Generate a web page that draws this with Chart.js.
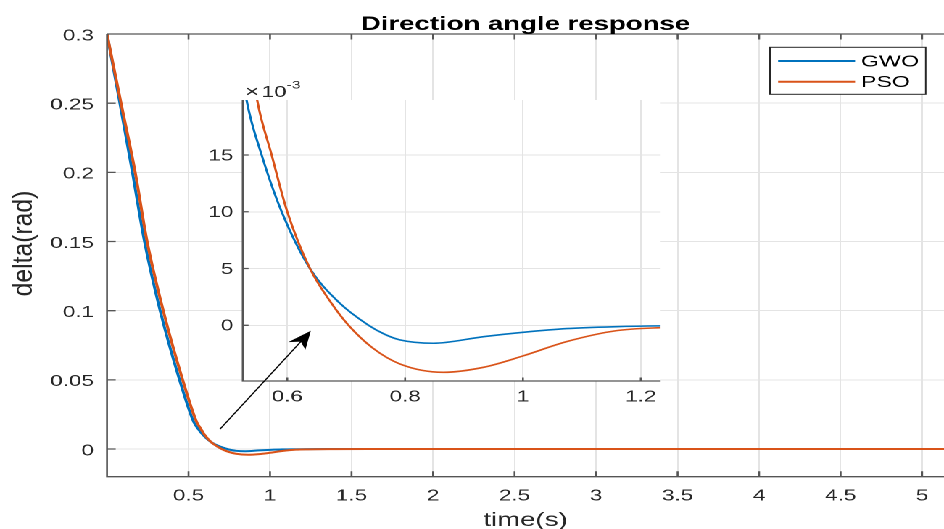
<!DOCTYPE html>
<html>
<head>
<meta charset="utf-8">
<title>Direction angle response</title>
<script src="https://cdn.jsdelivr.net/npm/chart.js@4.4.1/dist/chart.umd.min.js"></script>
<style>
  html, body { margin: 0; padding: 0; background: #fff; overflow: hidden; }
  /* the source figure is stretched sideways, so the whole stage is too */
  #stage { position: relative; width: 651px; height: 529px; transform: scaleX(1.45); transform-origin: 0 0; }
  #stage canvas { position: absolute; left: 0; top: 0; }
</style>
</head>
<body>
<div id="stage">
  <canvas id="mainChart" width="651" height="529"></canvas>
  <canvas id="zoomChart" width="651" height="529"></canvas>
</div>
<script>
const SERIES = ['GWO', 'PSO'];
const COLORS = ['#0072bd', '#d95319'];

const GWO_T = [0, 0.079, 0.156, 0.230, 0.326, 0.445, 0.531, 0.5565, 0.5905, 0.6385, 0.688, 0.738, 0.765, 0.791, 0.848, 0.933, 1.0, 1.074, 1.159, 1.234, 1.4, 1.6, 5.2];
const GWO_Y = [0.3, 0.25, 0.2, 0.15, 0.1, 0.05, 0.0198, 0.015, 0.01, 0.005, 0.002, 0, -0.00078, -0.00128, -0.00158, -0.001, -0.00062, -0.00029, -0.00012, -0.00005, -0.00001, 0, 0];
const PSO_T = [0, 0.086, 0.173, 0.246, 0.345, 0.464, 0.549, 0.5735, 0.6, 0.6385, 0.675, 0.704, 0.745, 0.791, 0.865, 0.933, 1.0, 1.074, 1.159, 1.234, 1.4, 1.6, 5.2];
const PSO_Y = [0.3, 0.25, 0.2, 0.15, 0.1, 0.05, 0.0198, 0.015, 0.01, 0.005, 0.00194, 0, -0.002, -0.0034, -0.00414, -0.0037, -0.0027, -0.00144, -0.00047, -0.00021, -0.00005, 0, 0];

const X_TICKS = [0.5, 1, 1.5, 2, 2.5, 3, 3.5, 4, 4.5, 5];
const Y_TICKS = [0, 0.05, 0.1, 0.15, 0.2, 0.25, 0.3];
const ZOOM_X_TICKS = [0.6, 0.8, 1, 1.2];
const ZOOM_Y_TICKS = [0, 0.005, 0.01, 0.015];

// arrow: tail in main-axes data, head in inset data
const ARROW_FROM = [0.693, 0.0144];
const ARROW_TO = [0.64, -0.00048];

const FONT = "'Liberation Sans', Arial, Helvetica, sans-serif";
const TEXT = '#262626';
const AXIS = '#555555';
const GRID = '#e4e4e4';

document.addEventListener('DOMContentLoaded', () => {
    const pts = (t, y) => t.map((v, i) => ({ x: v, y: y[i] }));

    const datasets = (w) => [
        { label: SERIES[0], data: pts(GWO_T, GWO_Y), borderColor: COLORS[0], borderWidth: w, order: 1 },
        { label: SERIES[1], data: pts(PSO_T, PSO_Y), borderColor: COLORS[1], borderWidth: w, order: 0 }
    ].map(d => ({ ...d, pointRadius: 0, fill: false, cubicInterpolationMode: 'monotone' }));

    // 1. Axis helper
    const axis = (min, max, ticks, fmt, pad, key, size, shift = 0) => ({
        type: 'linear', min, max,
        afterBuildTicks: s => { s.ticks = ticks.map(v => ({ value: v })); },
        afterFit: s => { s[key] = size; },
        grid: { color: GRID, lineWidth: 1, drawTicks: false },
        border: { display: false },
        ticks: { padding: pad, labelOffset: shift, color: TEXT, autoSkip: false, maxRotation: 0, font: { family: FONT, size: 15.5 }, callback: fmt }
    });

    // 2. Box lines and inward ticks
    const frame = {
        id: 'frame',
        beforeDraw(chart, args, o) {
            if (!o.fill) return;
            const { ctx, chartArea: a } = chart;
            ctx.save();
            ctx.fillStyle = '#fff';
            ctx.fillRect(a.left, a.top, a.right - a.left, a.bottom - a.top);
            ctx.restore();
        },
        afterDatasetsDraw(chart, args, o) {
            const { ctx, chartArea: a, scales: { x, y } } = chart;
            ctx.save();
            ctx.strokeStyle = AXIS;
            ctx.lineWidth = 1.3;
            ctx.beginPath();
            ctx.moveTo(a.left, a.top);
            ctx.lineTo(a.left, a.bottom);
            ctx.lineTo(a.right, a.bottom);
            if (o.box) { ctx.moveTo(a.left, a.top); ctx.lineTo(a.right, a.top); }
            x.ticks.forEach(t => {
                const p = x.getPixelForValue(t.value);
                ctx.moveTo(p, a.bottom); ctx.lineTo(p, a.bottom - o.tickX);
                if (o.box) { ctx.moveTo(p, a.top); ctx.lineTo(p, a.top + o.tickX); }
            });
            y.ticks.forEach(t => {
                const p = y.getPixelForValue(t.value);
                ctx.moveTo(a.left, p); ctx.lineTo(a.left + o.tickY, p);
            });
            ctx.stroke();
            ctx.restore();
        }
    };

    // 3. Title, axis labels, legend
    const labels = {
        id: 'labels',
        afterDraw(chart) {
            const { ctx, chartArea: a } = chart;
            const cx = (a.left + a.right) / 2;
            ctx.save();
            ctx.textAlign = 'center';
            ctx.fillStyle = '#000';
            ctx.font = `bold 19px ${FONT}`;
            ctx.fillText('Direction angle response', cx, 30);
            ctx.fillStyle = TEXT;
            ctx.font = `19px ${FONT}`;
            ctx.fillText('time(s)', cx, 526);

            ctx.save();
            ctx.translate(16.6, 243.5);
            ctx.rotate(-Math.PI / 2);
            ctx.scale(1.3, 1);
            ctx.textBaseline = 'middle';
            ctx.fillText('delta(rad)', 0, 0);
            ctx.restore();

            // legend
            ctx.fillStyle = '#fff';
            ctx.strokeStyle = TEXT;
            ctx.lineWidth = 1;
            ctx.fillRect(531, 47.3, 107.4, 47);
            ctx.strokeRect(531, 47.3, 107.4, 47);
            ctx.textAlign = 'left';
            ctx.textBaseline = 'middle';
            ctx.font = `16px ${FONT}`;
            SERIES.forEach((name, i) => {
                const ly = 61 + i * 20.7;
                ctx.strokeStyle = COLORS[i];
                ctx.lineWidth = 2;
                ctx.beginPath();
                ctx.moveTo(536.6, ly); ctx.lineTo(589.7, ly);
                ctx.stroke();
                ctx.fillStyle = '#000';
                ctx.fillText(name, 593.8, ly + 1);
            });
            ctx.restore();
        }
    };

    // 4. Main chart
    const main = new Chart(document.getElementById('mainChart'), {
        type: 'line',
        data: { datasets: datasets(2) },
        options: {
            responsive: false, animation: false, events: [], devicePixelRatio: 2,
            layout: { padding: { top: 34, left: 0, right: 0, bottom: 0 } },
            scales: {
                x: axis(0, 5.134, X_TICKS, v => String(v), 10, 'height', 52.3),
                y: axis(-0.02, 0.3, Y_TICKS, v => String(v), 9, 'width', 73.8, 2)
            },
            plugins: { legend: { display: false }, tooltip: { enabled: false }, frame: { box: true, tickX: 5.5, tickY: 6 } }
        },
        plugins: [frame, labels]
    });

    // 5. Inset: exponent note and arrow
    const note = {
        id: 'note',
        afterDraw(chart) {
            const { ctx, chartArea: a, scales } = chart;
            ctx.save();
            ctx.fillStyle = TEXT;
            ctx.textBaseline = 'alphabetic';
            ctx.textAlign = 'left';
            let nx = a.left + 1.5;
            ctx.font = `17px ${FONT}`;
            ctx.fillText('\u00d7', nx, 97);
            nx += ctx.measureText('\u00d7').width + 1.5;
            ctx.font = `15.5px ${FONT}`;
            ctx.fillText('10', nx, 97);
            nx += ctx.measureText('10').width;
            ctx.font = `11px ${FONT}`;
            ctx.fillText('-3', nx, 88.5);

            const x0 = main.scales.x.getPixelForValue(ARROW_FROM[0]);
            const y0 = main.scales.y.getPixelForValue(ARROW_FROM[1]);
            const x1 = scales.x.getPixelForValue(ARROW_TO[0]);
            const y1 = scales.y.getPixelForValue(ARROW_TO[1]);
            const len = Math.hypot(x1 - x0, y1 - y0);
            const ux = (x1 - x0) / len, uy = (y1 - y0) / len;
            const L = 18, W = 7;
            ctx.strokeStyle = '#000';
            ctx.fillStyle = '#000';
            ctx.lineWidth = 1;
            ctx.beginPath();
            ctx.moveTo(x0, y0);
            ctx.lineTo(x1 - ux * L * 0.7, y1 - uy * L * 0.7);
            ctx.stroke();
            ctx.beginPath();
            ctx.moveTo(x1, y1);
            ctx.lineTo(x1 - ux * L - uy * W, y1 - uy * L + ux * W);
            ctx.lineTo(x1 - ux * L * 0.72, y1 - uy * L * 0.72);
            ctx.lineTo(x1 - ux * L + uy * W, y1 - uy * L - ux * W);
            ctx.closePath();
            ctx.fill();
            ctx.restore();
        }
    };

    new Chart(document.getElementById('zoomChart'), {
        type: 'line',
        data: { datasets: datasets(1.6) },
        options: {
            responsive: false, animation: false, events: [], devicePixelRatio: 2,
            layout: { padding: { top: 100, left: 127.4, right: 195.4, bottom: 118 } },
            scales: {
                x: axis(0.5244, 1.2337, ZOOM_X_TICKS, v => String(v), 7, 'height', 30),
                y: axis(-0.004906, 0.019845, ZOOM_Y_TICKS, v => String(Math.round(v * 1000)), 6.5, 'width', 40, 1)
            },
            plugins: { legend: { display: false }, tooltip: { enabled: false }, frame: { fill: true, box: false, tickX: 3.5, tickY: 4 } }
        },
        plugins: [frame, note]
    });
});
</script>
</body>
</html>
